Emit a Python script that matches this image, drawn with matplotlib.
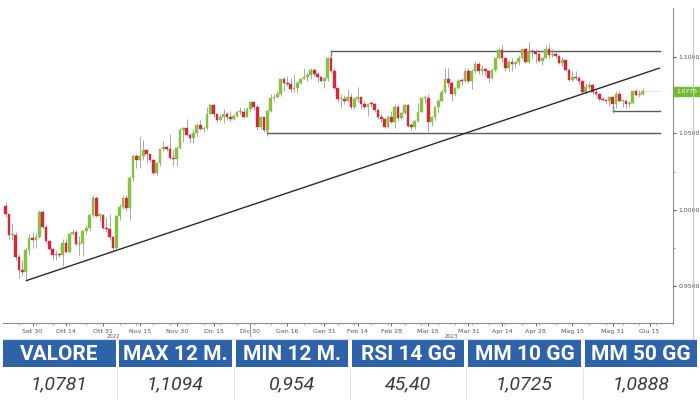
import numpy as np
import pandas as pd
import matplotlib
matplotlib.use('Agg')
import matplotlib.pyplot as plt
from matplotlib.patches import Rectangle
from matplotlib.transforms import blended_transform_factory

# EUR/USD daily candles, 20 Sep 2022 -> 13 Jun 2023
first_day = '2022-09-20'
first_open = 1.0025
closes = [
    0.9970, 0.9837, 0.9838, 0.9690, 0.9607, 0.9594, 0.9735, 0.9815, 0.9802,
    0.9825, 0.9986, 0.9886, 0.9793, 0.9743, 0.9705, 0.9707, 0.9703, 0.9780, 0.9722, 0.9841,
    0.9857, 0.9776, 0.9780, 0.9860, 0.9878, 0.9964, 1.0078, 0.9963, 0.9965, 0.9883,
    0.9876, 0.9820, 0.9750, 0.9960, 1.0020, 1.0075, 1.0011, 1.0205, 1.0355, 1.0325, 1.0350,
    1.0390, 1.0362, 1.0325, 1.0240, 1.0305, 1.0395, 1.0410, 1.0400, 1.0340, 1.0330, 1.0405,
    1.0525, 1.0535, 1.0490, 1.0470, 1.0505, 1.0555, 1.0530, 1.0535, 1.0630, 1.0685, 1.0625,
    1.0585, 1.0605, 1.0625, 1.0605, 1.0595, 1.0615, 1.0640, 1.0640, 1.0610, 1.0660, 1.0705,
    1.0670, 1.0545, 1.0605, 1.0520, 1.0645, 1.0730, 1.0735, 1.0760, 1.0855, 1.0830, 1.0820,
    1.0790, 1.0795, 1.0830, 1.0855, 1.0870, 1.0885, 1.0915, 1.0890, 1.0870, 1.0845, 1.0862,
    1.0990, 1.0905, 1.0795, 1.0725, 1.0727, 1.0715, 1.0740, 1.0675, 1.0725, 1.0740,
    1.0690, 1.0675, 1.0695, 1.0690, 1.0650, 1.0605, 1.0595, 1.0545, 1.0605, 1.0575,
    1.0670, 1.0600, 1.0635, 1.0685, 1.0550, 1.0545, 1.0580, 1.0640, 1.0730, 1.0730, 1.0575,
    1.0610, 1.0670, 1.0715, 1.0770, 1.0855, 1.0830, 1.0760, 1.0800, 1.0845, 1.0840, 1.0905, 1.0840,
    1.0905, 1.0955, 1.0905, 1.0920, 1.0905, 1.0860, 1.0915, 1.0990, 1.1045, 1.0990,
    1.0925, 1.0970, 1.0955, 1.0965, 1.0990, 1.1050, 1.0970, 1.1040, 1.1030, 1.1020,
    1.0975, 1.0995, 1.1050, 1.1010, 1.1020, 1.1005, 1.0960, 1.0980, 1.0915, 1.0850, 1.0870,
    1.0865, 1.0840, 1.0770, 1.0805, 1.0815, 1.0770, 1.0755, 1.0725, 1.0720, 1.0710, 1.0735, 1.0690,
    1.0760, 1.0710, 1.0715, 1.0690, 1.0700, 1.0780, 1.0750, 1.0755, 1.0775,
]
highs = [
    1.0050, 0.9975, 0.9905, 0.9855, 0.9710, 0.9670, 0.9750, 0.9840, 0.9855,
    0.9850, 0.9999, 0.9998, 0.9900, 0.9800, 0.9750, 0.9740, 0.9720, 0.9810, 0.9810, 0.9850,
    0.9875, 0.9870, 0.9830, 0.9870, 0.9900, 0.9975, 1.0095, 1.0090, 0.9980, 0.9970,
    0.9950, 0.9975, 0.9830, 0.9965, 1.0035, 1.0095, 1.0095, 1.0220, 1.0365, 1.0365, 1.0480,
    1.0455, 1.0400, 1.0365, 1.0330, 1.0310, 1.0400, 1.0450, 1.0420, 1.0495, 1.0390, 1.0420,
    1.0535, 1.0545, 1.0595, 1.0505, 1.0530, 1.0565, 1.0590, 1.0550, 1.0675, 1.0695, 1.0695,
    1.0625, 1.0630, 1.0660, 1.0640, 1.0645, 1.0630, 1.0650, 1.0675, 1.0665, 1.0675, 1.0715,
    1.0710, 1.0685, 1.0615, 1.0610, 1.0655, 1.0760, 1.0760, 1.0775, 1.0865, 1.0870, 1.0875,
    1.0865, 1.0890, 1.0840, 1.0865, 1.0925, 1.0900, 1.0930, 1.0930, 1.0900, 1.0875, 1.0870,
    1.1000, 1.1035, 1.0925, 1.0800, 1.0760, 1.0750, 1.0790, 1.0765, 1.0740, 1.0805,
    1.0745, 1.0710, 1.0700, 1.0710, 1.0700, 1.0665, 1.0625, 1.0600, 1.0620, 1.0645,
    1.0690, 1.0690, 1.0640, 1.0695, 1.0695, 1.0565, 1.0590, 1.0700, 1.0735, 1.0750, 1.0760,
    1.0615, 1.0680, 1.0725, 1.0790, 1.0930, 1.0930, 1.0840, 1.0805, 1.0855, 1.0860, 1.0925, 1.0925,
    1.0920, 1.0975, 1.0970, 1.0945, 1.0930, 1.0915, 1.0925, 1.0995, 1.1060, 1.1075,
    1.0995, 1.0980, 1.0990, 1.0970, 1.1010, 1.1055, 1.1060, 1.1095, 1.1055, 1.1050,
    1.1030, 1.1000, 1.1075, 1.1092, 1.1055, 1.1040, 1.1010, 1.1000, 1.0985, 1.0930, 1.0905,
    1.0905, 1.0875, 1.0845, 1.0830, 1.0835, 1.0825, 1.0790, 1.0765, 1.0735, 1.0725, 1.0745, 1.0745,
    1.0775, 1.0780, 1.0720, 1.0725, 1.0710, 1.0785, 1.0790, 1.0785, 1.0800,
]
lows = [
    0.9955, 0.9810, 0.9805, 0.9670, 0.9555, 0.9570, 0.9536, 0.9705, 0.9750,
    0.9750, 0.9815, 0.9875, 0.9780, 0.9735, 0.9670, 0.9675, 0.9690, 0.9630, 0.9715, 0.9725,
    0.9835, 0.9765, 0.9705, 0.9700, 0.9845, 0.9860, 0.9950, 0.9950, 0.9925, 0.9875,
    0.9855, 0.9800, 0.9730, 0.9745, 0.9935, 1.0005, 0.9990, 0.9935, 1.0190, 1.0275, 1.0275,
    1.0325, 1.0305, 1.0310, 1.0225, 1.0225, 1.0290, 1.0385, 1.0385, 1.0335, 1.0290, 1.0290,
    1.0400, 1.0445, 1.0480, 1.0445, 1.0440, 1.0485, 1.0520, 1.0510, 1.0520, 1.0625, 1.0605,
    1.0575, 1.0580, 1.0565, 1.0590, 1.0575, 1.0585, 1.0605, 1.0630, 1.0600, 1.0605, 1.0640,
    1.0655, 1.0520, 1.0530, 1.0510, 1.0485, 1.0640, 1.0715, 1.0730, 1.0745, 1.0780, 1.0810,
    1.0770, 1.0770, 1.0765, 1.0820, 1.0855, 1.0840, 1.0855, 1.0875, 1.0835, 1.0835, 1.0800,
    1.0845, 1.0895, 1.0790, 1.0705, 1.0670, 1.0690, 1.0705, 1.0660, 1.0660, 1.0705,
    1.0660, 1.0660, 1.0615, 1.0675, 1.0640, 1.0595, 1.0575, 1.0535, 1.0535, 1.0570,
    1.0535, 1.0580, 1.0585, 1.0630, 1.0545, 1.0525, 1.0530, 1.0575, 1.0640, 1.0700, 1.0515,
    1.0550, 1.0585, 1.0640, 1.0710, 1.0765, 1.0805, 1.0715, 1.0745, 1.0790, 1.0815, 1.0835, 1.0830,
    1.0790, 1.0895, 1.0890, 1.0880, 1.0875, 1.0835, 1.0855, 1.0910, 1.0985, 1.0970,
    1.0910, 1.0910, 1.0910, 1.0925, 1.0950, 1.0985, 1.0960, 1.0960, 1.0985, 1.0960,
    1.0965, 1.0945, 1.0990, 1.0985, 1.1000, 1.0990, 1.0955, 1.0940, 1.0910, 1.0845, 1.0845,
    1.0850, 1.0820, 1.0765, 1.0760, 1.0790, 1.0760, 1.0745, 1.0715, 1.0710, 1.0700, 1.0680, 1.0635,
    1.0665, 1.0705, 1.0675, 1.0665, 1.0670, 1.0695, 1.0745, 1.0735, 1.0750,
]

# x axis labels (Italian months)
tick_dates = ['2022-09-30', '2022-10-14', '2022-10-31', '2022-11-15', '2022-11-30',
              '2022-12-15', '2022-12-30', '2023-01-16', '2023-01-31', '2023-02-14',
              '2023-02-28', '2023-03-15', '2023-03-31', '2023-04-14', '2023-04-28',
              '2023-05-15', '2023-05-31', '2023-06-15']
tick_labels = ['Set 30', 'Ott 14', 'Ott 31', 'Nov 15', 'Nov 30', 'Dic 15', 'Dic 30',
               'Gen 16', 'Gen 31', 'Feb 14', 'Feb 28', 'Mar 15', 'Mar 31', 'Apr 14',
               'Apr 28', 'Mag 15', 'Mag 31', 'Giu 15']
year_dates = ['2022-11-03', '2023-03-24']
year_labels = ['2022', '2023']

y_major = [0.95, 1.00, 1.05, 1.10]
y_minor = [0.975, 1.025, 1.075]

# support / resistance drawn by the analyst: (start date, level, price where the stub ends)
trend_start = ('2022-09-28', 0.9536)
trend_end_price = 1.0928
levels = [('2023-02-02', 1.1040, 1.1010),
          ('2023-01-06', 1.0500, 1.0530),
          ('2023-05-31', 1.0645, 1.0680)]

# summary table
table_headers = ['VALORE', 'MAX 12 M.', 'MIN 12 M.', 'RSI 14 GG', 'MM 10 GG', 'MM 50 GG']
table_values = ['1,0781', '1,1094', '0,954', '45,40', '1,0725', '1,0888']

GREEN = '#86c23e'
RED = '#d2293c'
BLUE = '#2e63a9'
AXIS_GRAY = '#8c8c8c'
LABEL_GRAY = '#555555'

W, H = 700, 400
fig = plt.figure(figsize=(7, 4), dpi=100)
fig.patch.set_facecolor('white')


def px_box(x0, y0, x1, y1):
    """pixel box (top-left origin) -> figure fraction rect"""
    return [x0 / W, 1 - y1 / H, (x1 - x0) / W, (y1 - y0) / H]


# ---- candle chart ----
ax = fig.add_axes(px_box(3, 8, 673, 323))
cal = pd.bdate_range(first_day, '2023-06-30')


def pos(d):
    return cal.get_loc(pd.Timestamp(d))


opens = np.array([first_open] + closes[:-1])
c = np.array(closes)
x = np.arange(len(closes))
up = c >= opens
colors = np.where(up, GREEN, RED)

ax.vlines(x, lows, highs, color='#9b9b9b', lw=0.6, zorder=2)
body_low = np.minimum(opens, c)
body_h = np.maximum(np.abs(c - opens), 0.0007)
ax.bar(x, body_h, bottom=body_low, width=0.8, color=colors,
       edgecolor=colors, lw=0.3, zorder=3)

x_left, x_right = -0.8, 195.1
ax.set_xlim(x_left, x_right)
ax.set_ylim(0.926, 1.132)

# trend line
ts = pos(trend_start[0])
ax.plot([ts, x_right], [trend_start[1], trend_end_price], color='#2a2a2a', lw=1.0,
        zorder=4, solid_capstyle='butt')

# horizontal levels
for d, lvl, stub in levels:
    p = pos(d)
    ax.plot([p, x_right], [lvl, lvl], color='#5a5a5a', lw=1.0, zorder=1)
    ax.plot([p, p], [lvl, stub], color='#5a5a5a', lw=1.0, zorder=1)

# last price: dotted guide + green tag
ax.plot([x[-1], x_right], [closes[-1], closes[-1]], color='#a8d47a', lw=0.7, ls=':', zorder=1)
ax.annotate(f'{closes[-1]:.4f}', xy=(1.0, closes[-1]), xycoords=('axes fraction', 'data'),
            xytext=(2.5, 0), textcoords='offset points', ha='left', va='center',
            fontsize=4.3, color='white',
            bbox=dict(boxstyle='square,pad=0.35', fc='#72bb33', ec='#72bb33'),
            annotation_clip=False)

# axes styling
for s in ['left', 'top']:
    ax.spines[s].set_visible(False)
for s in ['right', 'bottom']:
    ax.spines[s].set_color(AXIS_GRAY)
    ax.spines[s].set_linewidth(0.8)

ax.yaxis.tick_right()
ax.set_yticks(y_major)
ax.set_yticklabels([f'{v:.4f}' for v in y_major])
ax.set_yticks(y_minor, minor=True)
ax.tick_params(axis='y', which='major', length=2.5, width=0.8, labelsize=4.5,
               colors=LABEL_GRAY, pad=1.5)
ax.tick_params(axis='y', which='minor', length=1.5, width=0.6, colors=AXIS_GRAY)

ax.set_xticks([pos(d) for d in tick_dates])
ax.set_xticklabels(tick_labels)
mondays = [i for i, d in enumerate(cal) if d.weekday() == 0]
ax.set_xticks(mondays, minor=True)
ax.tick_params(axis='x', which='major', length=2.5, width=0.6, labelsize=4.5,
               colors=LABEL_GRAY, pad=1.5)
ax.tick_params(axis='x', which='minor', length=1.2, width=0.5, colors=AXIS_GRAY)

bt = blended_transform_factory(ax.transData, ax.transAxes)
sep = pos('2022-12-30')
ax.plot([sep, sep], [0, -0.04], transform=bt, color=AXIS_GRAY, lw=0.6, clip_on=False)
for d, lab in zip(year_dates, year_labels):
    ax.text(pos(d), -0.042, lab, transform=bt, ha='center', va='center',
            fontsize=3.8, color=LABEL_GRAY)

# ---- overlay: outer frame line and summary table ----
ov = fig.add_axes([0, 0, 1, 1], zorder=5)
ov.set_xlim(0, W)
ov.set_ylim(H, 0)
ov.axis('off')
ov.plot([693, 693], [8, 338], color='#c4c4c4', lw=0.8)
ov.plot([3, 697], [338.5, 338.5], color='#cfe0f2', lw=0.8)

cell_w, pitch = 112.5, 116.3
for i, (hdr, val) in enumerate(zip(table_headers, table_values)):
    x0 = 3 + i * pitch
    ov.add_patch(Rectangle((x0, 340), cell_w, 27, fc=BLUE, ec='none'))
    ov.text(x0 + cell_w / 2, 354, hdr, ha='center', va='center', color='white',
            fontsize=15, fontweight='bold', family=['Roboto', 'DejaVu Sans'])
    ov.text(x0 + cell_w / 2, 384, val, ha='center', va='center', color='#3c3c3c',
            fontsize=14, style='italic', family=['Roboto', 'DejaVu Sans'])
    if i > 0:
        ov.plot([x0 - 1.9, x0 - 1.9], [369, 399], color='#dddddd', lw=0.6)

fig.savefig('out.png', dpi=100, facecolor='white')
